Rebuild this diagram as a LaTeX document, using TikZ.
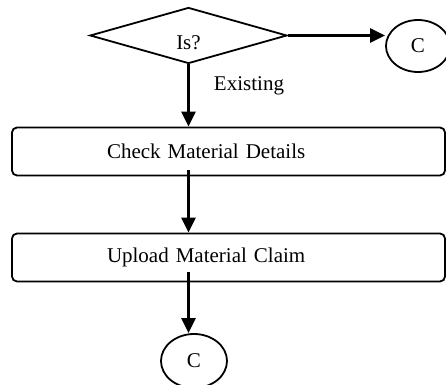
\documentclass[tikz,border=0pt]{standalone}
\usepackage{fontspec}
\setmainfont{Liberation Serif}
\usetikzlibrary{shapes.geometric,arrows.meta}

\begin{document}
\begin{tikzpicture}[x=0.5pt, y=-0.5pt,
    every node/.style={font=\fontsize{10.5}{12}\selectfont},
    flow/.style={line width=1.2pt, -{Triangle[length=7.5pt, width=7pt]}},
    stepbox/.style={draw=black, line width=0.9pt, rounded corners=2.5pt, minimum height=24pt,
        inner xsep=47.5pt, text width=121.5pt, align=left},
    decision/.style={draw=black, line width=0.9pt, shape=diamond, inner sep=0pt,
        minimum width=98.5pt, minimum height=28pt},
    connector/.style={draw=black, line width=0.9pt, shape=ellipse, inner sep=0pt}]
    \useasboundingbox (0, 0) rectangle (446, 385);

    \node[decision] (is) at (188.5, 35.5) {\raisebox{-3.5pt}[\height][0pt]{Is?}};
    \node[connector, minimum width=32pt, minimum height=26pt] (c1) at (418, 46) {C};
    \node (existing) at (249, 86) {Existing};

    \node[stepbox] (check) at (228.5, 151.5) {Check Material Details};
    \node[stepbox] (upload) at (228.5, 257.5) {Upload Material Claim};
    \node[connector, minimum width=33pt, minimum height=27pt] (c2) at (194, 361) {C};

    \draw [flow] (is.east) -- (is.east -| c1.west);
    \draw [flow] (is.south) -- (is.south |- check.north);
    \draw [flow] ([yshift=3pt]check.south -| is.south) -- (is.south |- upload.north);
    \draw [flow] ([yshift=5pt]upload.south -| is.south) -- (is.south |- c2.north);

\end{tikzpicture}
\end{document}
